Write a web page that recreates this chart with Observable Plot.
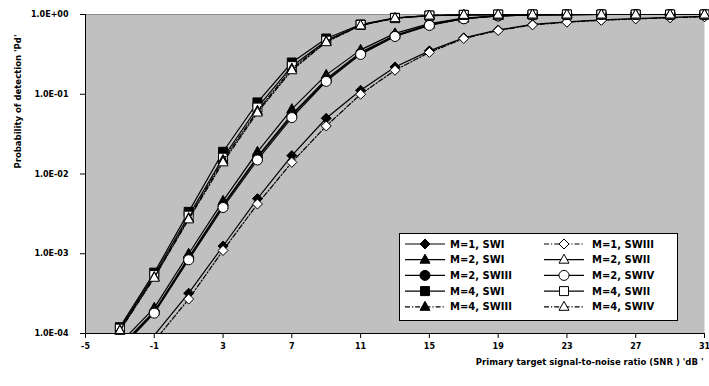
<!DOCTYPE html>
<html><head><meta charset="utf-8">
<script src="https://cdn.jsdelivr.net/npm/d3@7"></script>
<script src="https://cdn.jsdelivr.net/npm/@observablehq/plot@0.6"></script>
<style>body{margin:0;background:#fff} svg{display:block}</style>
</head><body><div id="chart"></div>
<script>
// ---- data ----
const snr = [-5, -3, -1, 1, 3, 5, 7, 9, 11, 13, 15, 17, 19, 21, 23, 25, 27, 29, 31];
const m1SWI   = [5e-6, 2.2e-5, 9.5e-5, 3.2e-4, 1.25e-3, 4.9e-3, 1.7e-2, 5.0e-2, 0.112, 0.22, 0.35, 0.51, 0.64, 0.75, 0.81, 0.855, 0.89, 0.92, 0.945];
const m1SWIII = [4e-6, 1.8e-5, 8.0e-5, 2.7e-4, 1.1e-3, 4.2e-3, 1.4e-2, 4.0e-2, 0.1, 0.2, 0.335, 0.5, 0.63, 0.74, 0.8, 0.845, 0.88, 0.91, 0.935];
const m2SWI   = [1.2e-5, 7.5e-5, 2.1e-4, 1.0e-3, 4.6e-3, 1.9e-2, 6.5e-2, 0.175, 0.36, 0.58, 0.77, 0.9, 0.965, 0.99, 0.997, 1, 1, 1, 1];
const m2SWII  = [1.1e-5, 6.8e-5, 1.9e-4, 9.0e-4, 4.1e-3, 1.65e-2, 5.6e-2, 0.155, 0.335, 0.55, 0.745, 0.89, 0.96, 0.99, 0.997, 1, 1, 1, 1];
const m2SWIII = [1.05e-5, 6.6e-5, 1.85e-4, 8.8e-4, 4.0e-3, 1.6e-2, 5.4e-2, 0.15, 0.325, 0.54, 0.74, 0.885, 0.96, 0.99, 0.997, 1, 1, 1, 1];
const m2SWIV  = [1.0e-5, 6.3e-5, 1.8e-4, 8.4e-4, 3.8e-3, 1.5e-2, 5.1e-2, 0.145, 0.316, 0.53, 0.73, 0.885, 0.96, 0.99, 0.997, 1, 1, 1, 1];
const m4SWI   = [2.2e-5, 1.2e-4, 5.8e-4, 3.35e-3, 1.9e-2, 7.9e-2, 0.25, 0.5, 0.75, 0.91, 0.97, 0.99, 0.998, 1, 1, 1, 1, 1, 1];
const m4SWII  = [2.0e-5, 1.15e-4, 5.4e-4, 3.0e-3, 1.6e-2, 6.8e-2, 0.225, 0.47, 0.74, 0.9, 0.97, 0.99, 0.998, 1, 1, 1, 1, 1, 1];
const m4SWIII = [1.9e-5, 1.1e-4, 5.1e-4, 2.8e-3, 1.5e-2, 6.2e-2, 0.21, 0.46, 0.73, 0.9, 0.97, 0.99, 0.998, 1, 1, 1, 1, 1, 1];
const m4SWIV  = [1.8e-5, 1.08e-4, 5.0e-4, 2.7e-3, 1.4e-2, 5.9e-2, 0.2, 0.45, 0.73, 0.9, 0.97, 0.99, 0.998, 1, 1, 1, 1, 1, 1];
const seriesNames = ["M=1, SWI", "M=1, SWIII", "M=2, SWI", "M=2, SWII", "M=2, SWIII", "M=2, SWIV", "M=4, SWI", "M=4, SWII", "M=4, SWIII", "M=4, SWIV"];
const seriesValues = [m1SWI, m1SWIII, m2SWI, m2SWII, m2SWIII, m2SWIV, m4SWI, m4SWII, m4SWIII, m4SWIV];
const xTicks = [-5, -1, 3, 7, 11, 15, 19, 23, 27, 31];
const xTickLabels = ["-5", "-1", "3", "7", "11", "15", "19", "23", "27", "31"];
const yTicks = [1e-4, 1e-3, 1e-2, 1e-1, 1];
const yTickLabels = ["1.0E-04", "1.0E-03", "1.0E-02", "1.0E-01", "1.0E+00"];
const xTitle = "Primary target signal-to-noise ratio (SNR ) 'dB '";
const yTitle = "Probability of detection 'Pd'";

// ---- styles ----
const symSquare = {draw(c){c.moveTo(-4.5,-4.5);c.lineTo(4.5,-4.5);c.lineTo(4.5,4.5);c.lineTo(-4.5,4.5);c.closePath();}};
const symCircle = {draw(c){c.moveTo(5,0);c.arc(0,0,5,0,2*Math.PI);c.closePath();}};
const symTriangle = {draw(c){c.moveTo(0,-5.5);c.lineTo(5,3.5);c.lineTo(-5,3.5);c.closePath();}};
const symDiamond = {draw(c){c.moveTo(0,-5);c.lineTo(5,0);c.lineTo(0,5);c.lineTo(-5,0);c.closePath();}};
const dashDot = "5,2,1.2,2";
const styles = [
  {sym: symDiamond, fill: "black", dash: null},
  {sym: symDiamond, fill: "white", dash: dashDot},
  {sym: symTriangle, fill: "black", dash: null},
  {sym: symTriangle, fill: "white", dash: null},
  {sym: symCircle, fill: "black", dash: null},
  {sym: symCircle, fill: "white", dash: null},
  {sym: symSquare, fill: "black", dash: null},
  {sym: symSquare, fill: "white", dash: null},
  {sym: symTriangle, fill: "black", dash: dashDot},
  {sym: symTriangle, fill: "white", dash: dashDot}
];

const seriesMarks = [];
seriesNames.forEach((name, i) => {
  const rows = snr.map((x, j) => ({x, p: seriesValues[i][j], s: name}));
  const st = styles[i];
  seriesMarks.push(Plot.line(rows, {x: "x", y: "p", stroke: "black", strokeWidth: 1.2, strokeDasharray: st.dash, clip: true}));
  seriesMarks.push(Plot.dot(rows.filter(d => d.p >= 1e-4), {x: "x", y: "p", symbol: st.sym, r: 5, fill: st.fill, stroke: "black", strokeWidth: 1}));
});

const chart = Plot.plot({
  width: 709, height: 386,
  marginLeft: 85, marginTop: 14, marginRight: 5, marginBottom: 53,
  style: {fontFamily: "'DejaVu Sans', sans-serif", fontWeight: "bold", fontSize: "8px", background: "white", overflow: "visible"},
  x: {domain: [-5, 31]},
  y: {type: "log", domain: [1e-4, 1]},
  marks: [
    Plot.frame({fill: "#C0C0C0", stroke: null}),
    Plot.ruleY([1], {stroke: "#8c8c8c", strokeWidth: 1}),
    ...seriesMarks,
    Plot.ruleX([-5], {stroke: "black"}),
    Plot.ruleY([1e-4], {stroke: "black"}),
    Plot.axisX(xTicks, {tickFormat: d => xTickLabels[xTicks.indexOf(d)], tickSize: 5, tickPadding: 5, fontSize: 8, fontWeight: "bold", label: null, stroke: "black"}),
    Plot.axisY(yTicks, {tickFormat: d => yTickLabels[yTicks.indexOf(d)], tickSize: 5, tickPadding: 12, fontSize: 8, fontWeight: "bold", label: null, stroke: "black"}),
    Plot.text([xTitle], {frameAnchor: "bottom-right", dx: -1, dy: 31, text: d => d, textAnchor: "end", fontSize: 8.5, fontWeight: "bold"}),
    Plot.text([yTitle], {frameAnchor: "top-left", dx: -71, dy: 87, rotate: -90, text: d => d, textAnchor: "middle", fontSize: 8.5, fontWeight: "bold"})
  ]
});
document.getElementById("chart").appendChild(chart);

// ---- legend ----
const svg = d3.select(chart);
const lg = svg.append("g").attr("text-anchor", "start");
lg.append("rect").attr("x", 399.5).attr("y", 233.5).attr("width", 278).attr("height", 87)
  .attr("fill", "white").attr("stroke", "black").attr("stroke-width", 1);
seriesNames.forEach((name, i) => {
  const col = i % 2, row = Math.floor(i / 2);
  const y = 244 + row * 15.7;
  const x0 = col ? 544 : 405, x1 = col ? 584 : 445, mx = col ? 564 : 425, tx = col ? 592 : 450;
  const st = styles[i];
  lg.append("line").attr("x1", x0).attr("x2", x1).attr("y1", y).attr("y2", y)
    .attr("stroke", "black").attr("stroke-width", 1.2).attr("stroke-dasharray", st.dash);
  const p = d3.path(); st.sym.draw(p);
  lg.append("path").attr("d", p.toString()).attr("transform", `translate(${mx},${y})`)
    .attr("fill", st.fill).attr("stroke", "black").attr("stroke-width", 1);
  lg.append("text").attr("x", tx).attr("y", y).attr("dy", "0.35em").attr("font-size", 10)
    .attr("text-anchor", "start").attr("font-weight", "bold").attr("fill", "black").text(name);
});
</script></body></html>
